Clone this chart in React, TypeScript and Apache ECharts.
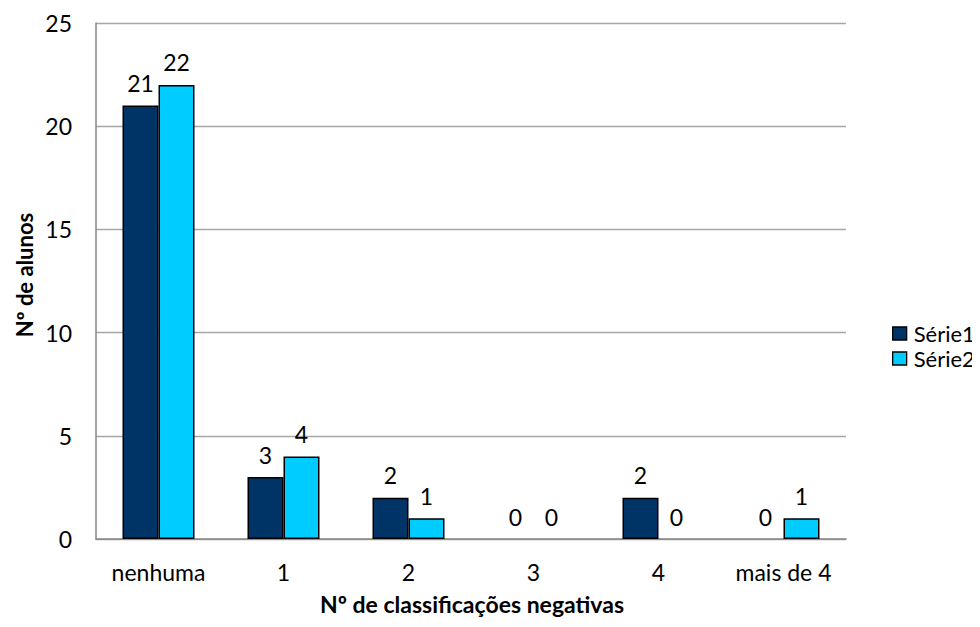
import React, { useEffect, useRef } from "react";
import * as echarts from "echarts";

const categories = ["nenhuma", "1", "2", "3", "4", "mais de 4"];
const serie1 = [21, 3, 2, 0, 2, 0];
const serie2 = [22, 4, 1, 0, 0, 1];
const seriesNames = ["Série1", "Série2"];
const seriesColors = ["#003366", "#00CCFF"];
const yTicks = { min: 0, max: 25, interval: 5 };

const FONT = "Lato, 'Open Sans', sans-serif";

export default function App() {
  const ref = useRef<HTMLDivElement>(null);
  useEffect(() => {
    if (!ref.current) return;
    const chart = echarts.init(ref.current, null, { renderer: "svg" });
    const label = {
      show: true,
      position: "top" as const,
      distance: 11,
      color: "#000",
      fontSize: 23,
      fontFamily: FONT,
    };
    const mk = (arr: number[]) =>
      arr.map((v) => (v === 0 ? { value: v, itemStyle: { borderWidth: 0 } } : v));
    chart.setOption({
      animation: false,
      textStyle: { fontFamily: FONT },
      grid: { left: 96, right: 134, top: 23, bottom: 88 },
      legend: {
        orient: "vertical",
        left: 887,
        top: 316,
        itemWidth: 14,
        itemHeight: 13,
        itemGap: 0,
        icon: "rect",
        itemStyle: { borderColor: "#000", borderWidth: 1.3 },
        textStyle: { fontSize: 22, color: "#000", fontFamily: FONT, lineHeight: 25, padding: [0, 0, 0, 2] },
        data: seriesNames,
      },
      xAxis: {
        type: "category",
        data: categories,
        axisLine: { lineStyle: { color: "#868686", width: 1.5 } },
        axisTick: { show: false },
        axisLabel: { color: "#000", fontSize: 23, margin: 21, fontFamily: FONT },
      },
      yAxis: {
        type: "value",
        min: yTicks.min,
        max: yTicks.max,
        interval: yTicks.interval,
        axisLine: { show: true, lineStyle: { color: "#868686", width: 1.5 } },
        axisTick: { show: false },
        axisLabel: { color: "#000", fontSize: 23, margin: 24, fontFamily: FONT },
        splitLine: { lineStyle: { color: "#A6A6A6", width: 1.3 } },
      },
      graphic: [
        {
          type: "text",
          x: 472,
          y: 604,
          style: {
            text: "Nº de classificações negativas",
            fontSize: 23,
            fontWeight: "bold",
            fill: "#000",
            fontFamily: FONT,
            align: "center",
            verticalAlign: "middle",
          },
        },
        {
          type: "text",
          x: 24,
          y: 275,
          rotation: Math.PI / 2,
          style: {
            text: "Nº de alunos",
            fontSize: 22,
            fontWeight: "bold",
            fill: "#000",
            fontFamily: FONT,
            align: "center",
            verticalAlign: "middle",
          },
        },
      ],
      series: [
        {
          name: seriesNames[0],
          type: "bar",
          data: mk(serie1),
          barWidth: 36,
          barGap: "0%",
          itemStyle: { color: seriesColors[0], borderColor: "#000", borderWidth: 1.5 },
          label,
        },
        {
          name: seriesNames[1],
          type: "bar",
          data: mk(serie2),
          barWidth: 36,
          itemStyle: { color: seriesColors[1], borderColor: "#000", borderWidth: 1.5 },
          label,
        },
      ],
    });
    return () => chart.dispose();
  }, []);
  return <div ref={ref} style={{ width: 980, height: 627, margin: -8 }} />;
}
